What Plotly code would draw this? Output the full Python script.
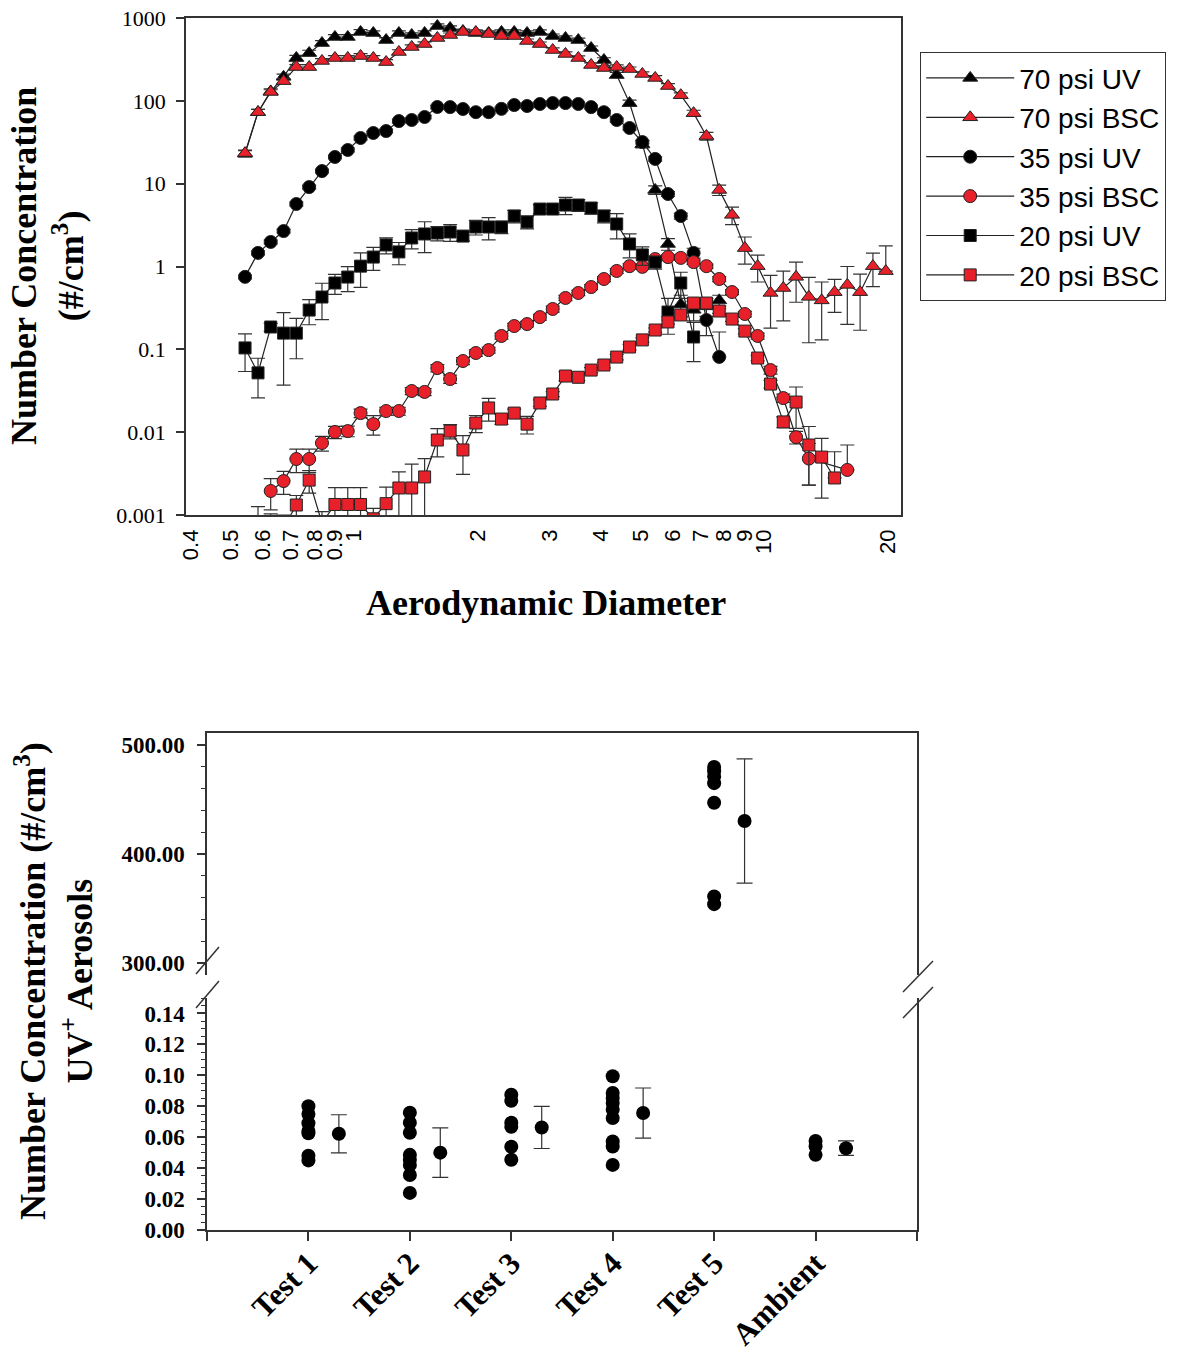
import plotly.graph_objects as go

# ---------------- top panel data (APS channel midpoints, um) ----------------
channels = [0.542, 0.583, 0.626, 0.673, 0.723, 0.777, 0.835, 0.898, 0.965, 1.037,
            1.114, 1.197, 1.286, 1.382, 1.486, 1.596, 1.715, 1.843, 1.981, 2.129,
            2.288, 2.458, 2.642, 2.839, 3.051, 3.278, 3.523, 3.786, 4.068, 4.371,
            4.698, 5.048, 5.425, 5.829, 6.264, 6.732, 7.234, 7.774, 8.354, 8.977,
            9.647, 10.37, 11.14, 11.97, 12.86, 13.82, 14.86, 15.96, 17.15, 18.43, 19.81]

uv70 = [23, 73, 130, 195, 329, 378, 499, 590, 590, 678, 659, 542, 659, 624, 659, 800, 757,
        697, 659, 659, 678, 678, 659, 678, 606, 574, 542, 434, 311, 205, 94, 30, 8.4, 1.87,
        0.35, 0.30, 0.33, 0.39]
uv70_err = [2, 6, 10, 15, 25, 30, 35, 40, 40, 45, 40, 35, 40, 40, 40, 50, 45, 40, 40, 40, 40,
            40, 40, 40, 35, 35, 30, 25, 20, 15, 8, 3, 1, 0.3, 0.1, 0.08, 0.08, 0.06]

bsc70 = [23.4, 73, 128, 173, 256, 256, 303, 329, 329, 348, 329, 294, 389, 447, 485, 574, 624,
         678, 678, 641, 606, 606, 528, 485, 411, 368, 329, 271, 249, 256, 242, 211, 189, 151,
         117, 71, 37.6, 8.4, 4.2, 1.67, 1.01, 0.48, 0.55, 0.75, 0.43, 0.39, 0.49, 0.60, 0.49,
         1.01, 0.88]
bsc70_err = [2, 6, 8, 12, 18, 18, 20, 22, 22, 24, 22, 20, 25, 28, 30, 35, 35, 40, 40, 38, 35,
             35, 30, 28, 25, 22, 20, 16, 15, 15, 14, 13, 12, 10, 8, 6, 4, 1.2, 1.0, 0.6, 0.36,
             0.3, 0.33, 0.38, 0.31, 0.26, 0.21, 0.4, 0.32, 0.44, 0.89]

uv35 = [0.75, 1.46, 1.98, 2.68, 5.68, 9.1, 14.2, 21, 25.5, 35.6, 40.9, 43.2, 57, 58.7, 63.8,
        84.3, 84, 79.7, 73, 73, 80, 89, 86.6, 91.6, 94, 94, 91.6, 84, 73, 58.7, 47, 31.8,
        19.9, 7.5, 4.07, 1.46, 0.226, 0.081]
uv35_err = [0.04, 0.08, 0.1, 0.13, 0.3, 0.45, 0.7, 1, 1.3, 1.8, 2, 2, 2.8, 3, 3, 4, 4, 4, 3.5,
            3.5, 4, 4.5, 4.3, 4.5, 4.7, 4.7, 4.5, 4.2, 3.6, 3, 2.4, 1.6, 1.2, 0.5, 0.35, 0.2,
            0.08, 0.081]

bsc35 = [0.00195, 0.00257, 0.00474, 0.00474, 0.0074, 0.01005, 0.0103, 0.0170, 0.0125, 0.0180,
         0.0180, 0.0314, 0.0306, 0.0594, 0.0438, 0.0723, 0.0903, 0.098, 0.145, 0.191, 0.202,
         0.245, 0.307, 0.417, 0.479, 0.565, 0.706, 0.883, 1.01, 0.99, 1.23, 1.30, 1.27, 1.13,
         1.01, 0.706, 0.492, 0.267, 0.145, 0.0562, 0.0258, 0.0087, 0.0048, None, None, 0.0035]
bsc35_err = [0.0008, 0.0008, 0.0015, 0.0015, 0.0015, 0.0017, 0.0015, 0.002, 0.0033, 0.002,
             0.002, 0.003, 0.003, 0.006, 0.005, 0.007, 0.008, 0.008, 0.012, 0.015, 0.016, 0.02,
             0.025, 0.03, 0.035, 0.04, 0.05, 0.06, 0.07, 0.07, 0.08, 0.08, 0.08, 0.07, 0.06,
             0.05, 0.035, 0.02, 0.012, 0.006, 0.003, 0.0015, 0.0025, None, None, 0.0035]

uv20 = [0.104, 0.052, 0.186, 0.157, 0.157, 0.298, 0.428, 0.632, 0.746, 1.01, 1.30, 1.82, 1.50,
        2.21, 2.47, 2.54, 2.61, 2.33, 3.0, 3.0, 3.0, 4.07, 3.45, 4.94, 4.94, 5.52, 5.52, 5.08,
        4.07, 3.26, 1.87, 1.38, 1.13, 0.282, 0.632, 0.141]
uv20_err = [0.05, 0.026, 0.02, 0.12, 0.08, 0.1, 0.2, 0.17, 0.25, 0.45, 0.4, 0.4, 0.45, 0.58,
            1.0, 0.5, 0.6, 0.3, 0.6, 0.9, 0.5, 0.7, 0.6, 0.6, 0.5, 1.3, 0.9, 0.8, 0.7, 1.1, 0.6,
            0.35, 0.2, 0.13, 0.22, 0.07]

bsc20 = [0.0006, 0.0005, 0.0007, 0.00132, 0.00264, 0.0008, 0.00134, 0.00134, 0.00134, 0.0009,
         0.00137, 0.00212, 0.00212, 0.00288, 0.00804, 0.0103, 0.0061, 0.0129, 0.0196, 0.0144,
         0.0170, 0.0125, 0.0225, 0.0289, 0.0476, 0.046, 0.0562, 0.0647, 0.0807, 0.1067, 0.130,
         0.171, 0.214, 0.260, 0.362, 0.362, 0.290, 0.232, 0.166, 0.0785, 0.0381, 0.0133,
         0.0231, 0.0070, 0.0050, 0.0028]
bsc20_err = [0.00066, 0.00053, 0.0003, 0.0004, 0.0008, 0.0003, 0.0008, 0.0008, 0.0008, 0.0003,
             0.0008, 0.0012, 0.002, 0.0019, 0.003, 0.002, 0.003, 0.003, 0.006, 0.002, 0.002,
             0.003, 0.002, 0.002, 0.006, 0.004, 0.004, 0.005, 0.006, 0.008, 0.008, 0.01, 0.012,
             0.015, 0.02, 0.02, 0.018, 0.015, 0.012, 0.006, 0.004, 0.002, 0.012, 0.0047,
             0.0034, 0.003]

x_tick_vals = [0.4, 0.5, 0.6, 0.7, 0.8, 0.9, 1, 2, 3, 4, 5, 6, 7, 8, 9, 10, 20]
y_tick_vals = [0.001, 0.01, 0.1, 1, 10, 100, 1000]

# ---------------- bottom panel data ----------------
categories = ["Test 1", "Test 2", "Test 3", "Test 4", "Test 5", "Ambient"]
test1 = [0.080, 0.075, 0.069, 0.064, 0.0625, 0.048, 0.045]
test2 = [0.0758, 0.0693, 0.0629, 0.0486, 0.0454, 0.0421, 0.0356, 0.024]
test3 = [0.0875, 0.0836, 0.0693, 0.0667, 0.0538, 0.0454]
test4 = [0.0994, 0.0886, 0.0854, 0.0821, 0.0778, 0.0724, 0.0572, 0.054, 0.0421]
test5 = [479.8, 476, 471, 465, 447, 361, 354]
ambient = [0.0575, 0.054, 0.0486]
means = [0.0622, 0.050, 0.0663, 0.0756, 430.3, 0.0529]
sds = [0.0123, 0.016, 0.0136, 0.0162, 57, 0.0047]
individual = [test1, test2, test3, test4, test5, ambient]

W, H = 1182, 1353
SERIF = "Liberation Serif"
SANS = "Liberation Sans"
RED = "#e8202a"
INK = "#222222"

fig = go.Figure()


def add_series(name, xs, ys, errs, symbol, fill, size):
    # on a log axis the lower half of a bar that would reach zero is not drawn
    minus = [e if (e is not None and y is not None and e < y) else 0
             for y, e in zip(ys, errs)]
    fig.add_trace(go.Scatter(
        x=xs, y=ys, name=name, mode="lines+markers", connectgaps=True,
        line=dict(color=INK, width=1.2),
        marker=dict(symbol=symbol, size=size, color=fill, line=dict(color=INK, width=1)),
        error_y=dict(type="data", symmetric=False, array=errs, arrayminus=minus,
                     visible=True, color="#333333", thickness=1.2, width=7),
        xaxis="x", yaxis="y"))


add_series("70 psi UV", channels[:len(uv70)], uv70, uv70_err, "triangle-up", "black", 13)
add_series("70 psi BSC", channels[:len(bsc70)], bsc70, bsc70_err, "triangle-up", RED, 13)
add_series("35 psi UV", channels[:len(uv35)], uv35, uv35_err, "circle", "black", 13)
add_series("35 psi BSC", channels[2:2 + len(bsc35)], bsc35, bsc35_err, "circle", RED, 13)
add_series("20 psi UV", channels[:len(uv20)], uv20, uv20_err, "square", "black", 12)
add_series("20 psi BSC", channels[1:1 + len(bsc20)], bsc20, bsc20_err, "square", RED, 12)

# bottom panel: individual points and means (upper segment for large values)
for i, (cat, pts) in enumerate(zip(categories, individual)):
    pos = i + 1
    upper = max(pts) > 1
    ya = "y2" if upper else "y3"
    xa = "x3" if upper else "x2"
    fig.add_trace(go.Scatter(
        x=[pos] * len(pts), y=pts, mode="markers", showlegend=False,
        marker=dict(symbol="circle", size=14, color="black"),
        xaxis=xa, yaxis=ya))
    fig.add_trace(go.Scatter(
        x=[pos + 0.3], y=[means[i]], mode="markers", showlegend=False,
        marker=dict(symbol="circle", size=14, color="black"),
        error_y=dict(type="data", array=[sds[i]], visible=True, color="#333333",
                     thickness=1.2, width=8),
        xaxis=xa, yaxis=ya))

# ---------------- geometry ----------------
def px_x(p):
    return p / W


def px_y(p):
    return 1 - p / H


top_xdom = [px_x(186), px_x(901)]
top_ydom = [px_y(515), px_y(18)]
bot_xdom = [px_x(207), px_x(917)]
up_ydom = [px_y(975), px_y(733)]
lo_ydom = [px_y(1230), px_y(998)]

axis_line = dict(showline=True, linecolor="#333333", linewidth=1.5, showgrid=False,
                 zeroline=False, automargin=False)

n_cat = len(categories)

fig.update_layout(
    width=W, height=H, margin=dict(l=0, r=0, t=0, b=0, autoexpand=False),
    paper_bgcolor="white", plot_bgcolor="white",
    font=dict(family=SERIF, color="black"),
    xaxis=dict(type="log", range=[-0.410, 1.334], domain=top_xdom, anchor="y",
               tickmode="array", tickvals=x_tick_vals,
               ticktext=[str(v) for v in x_tick_vals], tickangle=-90, ticks="",
               ticklabelstandoff=4,
               tickfont=dict(family=SANS, size=22), mirror=True, **axis_line),
    xaxis4=dict(type="log", range=[-0.410, 1.334], overlaying="x", anchor="y",
                tickmode="array", tickvals=[1, 10], ticks="outside", ticklen=9,
                tickcolor="#333333", tickwidth=1.5, showticklabels=False,
                showline=False, showgrid=False, zeroline=False, automargin=False),
    yaxis=dict(type="log", range=[-3, 3], domain=top_ydom, anchor="x",
               tickmode="array", tickvals=y_tick_vals,
               ticktext=["0.001", "0.01", "0.1", "1", "10", "100", "1000"],
               ticks="outside", ticklen=8, tickcolor="#333333", tickwidth=1.5,
               ticklabelstandoff=6,
               tickfont=dict(family=SERIF, size=22), mirror=True, **axis_line),
    xaxis2=dict(range=[0, n_cat + 1], domain=bot_xdom, anchor="y3", tickmode="array",
                tickvals=list(range(1, n_cat + 1)),
                ticktext=["<b>%s</b>" % c for c in categories],
                tickangle=-45, ticks="outside", ticklen=9, tickcolor="#333333",
                tickwidth=1.5, ticklabelstandoff=-8,
                minor=dict(tickmode="array", tickvals=[0, n_cat + 1], ticks="outside",
                           ticklen=9, tickcolor="#333333", tickwidth=1.5),
                tickfont=dict(family=SERIF, size=31), **axis_line),
    xaxis3=dict(range=[0, n_cat + 1], domain=bot_xdom, anchor="y2", side="top", ticks="",
                showticklabels=False, **axis_line),
    yaxis2=dict(range=[289, 511], domain=up_ydom, anchor="x3", tickmode="array",
                tickvals=[300, 400, 500], ticktext=["<b>300.00</b>", "<b>400.00</b>", "<b>500.00</b>"],
                ticks="outside", ticklen=8, tickcolor="#333333", tickwidth=1.5,
                ticklabelstandoff=8,
                minor=dict(ticks="outside", ticklen=4, dtick=20, tick0=0,
                           tickcolor="#333333", tickwidth=1.2),
                tickfont=dict(family=SERIF, size=23), mirror=True, **axis_line),
    yaxis3=dict(range=[0, 0.15], domain=lo_ydom, anchor="x2", tickmode="array",
                tickvals=[0, 0.02, 0.04, 0.06, 0.08, 0.10, 0.12, 0.14],
                ticktext=["<b>%.2f</b>" % v for v in [0, 0.02, 0.04, 0.06, 0.08, 0.10, 0.12, 0.14]],
                ticks="outside", ticklen=8, tickcolor="#333333", tickwidth=1.5,
                ticklabelstandoff=8,
                minor=dict(ticks="outside", ticklen=4, dtick=0.005, tick0=0,
                           tickcolor="#333333", tickwidth=1.2),
                tickfont=dict(family=SERIF, size=23), mirror=True, **axis_line),
    legend=dict(x=px_x(920), y=px_y(52), xanchor="left", yanchor="top",
                bordercolor="#333333", borderwidth=1.2, bgcolor="white",
                font=dict(family=SANS, size=28), itemwidth=88, tracegroupgap=0),
    showlegend=True,
)

annotations = [
    dict(text="<b>Number Concentration<br>(#/cm<sup>3</sup>)</b>", x=px_x(48), y=px_y(266),
         textangle=-90, font=dict(family=SERIF, size=36)),
    dict(text="<b>Aerodynamic Diameter</b>", x=px_x(546), y=px_y(603),
         font=dict(family=SERIF, size=36)),
    dict(text="<b>Number Concentration (#/cm<sup>3</sup>)<br>UV<sup>+</sup> Aerosols</b>",
         x=px_x(54), y=px_y(981), textangle=-90, font=dict(family=SERIF, size=36)),
]
for a in annotations:
    a.update(xref="paper", yref="paper", showarrow=False, xanchor="center", yanchor="middle")
fig.update_layout(annotations=annotations)

# axis-break marks
breaks = [((196, 974), (219, 947)), ((196, 1008), (219, 981)),
          ((903, 992), (933, 961)), ((903, 1018), (933, 987))]
fig.update_layout(shapes=[
    dict(type="line", xref="paper", yref="paper", x0=px_x(a[0]), y0=px_y(a[1]),
         x1=px_x(b[0]), y1=px_y(b[1]), line=dict(color="#333333", width=1.5))
    for a, b in breaks])

fig.write_html("out.html", config={"displayModeBar": False},
               post_script="document.body.style.margin='0';")
